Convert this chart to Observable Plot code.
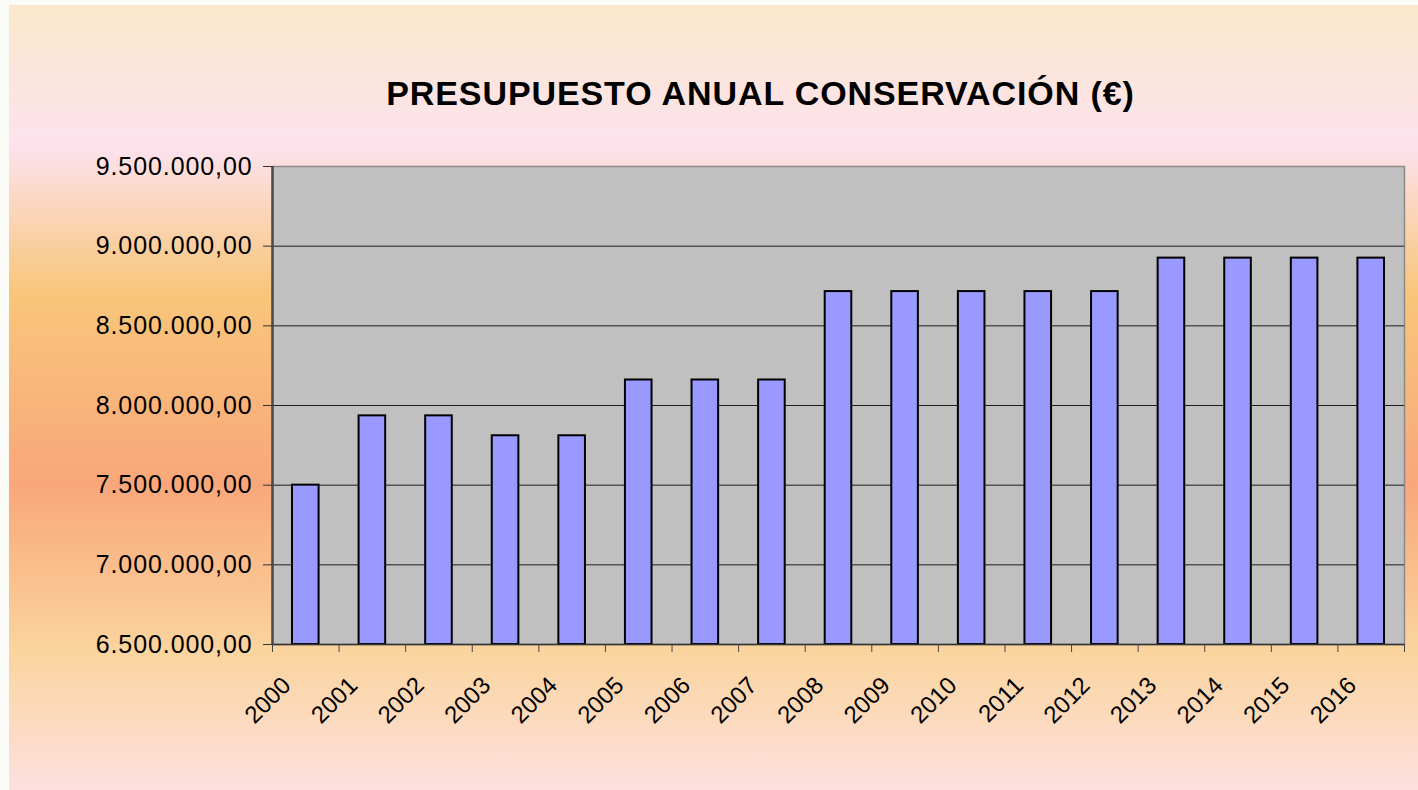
<!DOCTYPE html>
<html>
<head>
<meta charset="utf-8">
<script src="https://cdn.jsdelivr.net/npm/d3@7"></script>
<script src="https://cdn.jsdelivr.net/npm/@observablehq/plot@0.6"></script>
<style>
  html, body { margin: 0; padding: 0; background: #fbfbf8; width: 1418px; height: 790px; overflow: hidden; }
  #bg {
    position: absolute; left: 9px; top: 5px; width: 1409px; height: 785px;
    background: linear-gradient(to bottom,
      #fbe8cc 0%, #fde2ee 18%, #f8c67a 36.6%, #f9a77a 61%, #fad59f 82.8%, #fde0e0 100%);
  }
  #chart { position: absolute; left: 0; top: 0; }
</style>
</head>
<body>
<div id="bg"></div>
<div id="chart"></div>
<script>
const title = "PRESUPUESTO ANUAL CONSERVACIÓN (€)";
const years = ["2000","2001","2002","2003","2004","2005","2006","2007","2008","2009","2010","2011","2012","2013","2014","2015","2016"];
const values = [7500000, 7935000, 7935000, 7810000, 7810000, 8160000, 8160000, 8160000, 8715000, 8715000, 8715000, 8715000, 8715000, 8925000, 8925000, 8925000, 8925000];
const yTicks = [6500000, 7000000, 7500000, 8000000, 8500000, 9000000, 9500000];

const data = years.map((y, i) => ({year: y, i, value: values[i]}));
const yMin = yTicks[0], yMax = yTicks[yTicks.length - 1];
const fmt = v => d3.format(",.2f")(v).replace(/,/g, "#").replace(/\./g, ",").replace(/#/g, ".");
const boundaries = d3.range(years.length + 1);

const chart = Plot.plot({
  width: 1418,
  height: 790,
  marginLeft: 272,
  marginRight: 14,
  marginTop: 166,
  marginBottom: 146,
  style: {background: "transparent", fontFamily: "'Liberation Sans', Arial, sans-serif", overflow: "visible"},
  x: {domain: [0, years.length], axis: null},
  y: {domain: [yMin, yMax], axis: null},
  marks: [
    Plot.frame({fill: "#c0c0c0", stroke: "#8a8a8a", strokeWidth: 1.5}),
    Plot.gridY(yTicks.slice(1, -1), {stroke: "#000", strokeOpacity: 0.85, strokeWidth: 1}),
    Plot.rect(data, {x1: "i", x2: d => d.i + 1, y1: yMin, y2: "value", insetLeft: 20, insetRight: 20,
      fill: "#9999ff", stroke: "#000", strokeWidth: 2}),
    Plot.ruleX([0], {stroke: "#4a4a4a", strokeWidth: 2.5}),
    Plot.ruleY([yMin], {stroke: "#333", strokeWidth: 1.5}),
    Plot.axisY(yTicks, {tickSize: 9, tickPadding: 11, tickFormat: fmt, fontSize: 25, stroke: "#333",
      fill: "#000", label: null}),
    Plot.axisX(boundaries, {tickSize: 8, tickFormat: () => "", stroke: "#444", label: null}),
    Plot.text(data, {x: d => d.i + 0.5, frameAnchor: "bottom", text: "year", rotate: -45,
      textAnchor: "end", lineAnchor: "middle", dx: -19, dy: 37, fontSize: 24, fill: "#000"}),
    Plot.text([title], {frameAnchor: "top", x: years.length / 2, lineAnchor: "bottom", dy: -62, dx: -78,
      fontSize: 34, fontWeight: "bold", fill: "#000", textAnchor: "middle"})
  ]
});
document.getElementById("chart").appendChild(chart);
// letter-spacing tweaks to match the stretched look of the original
chart.querySelectorAll("[aria-label='y-axis tick label'] text").forEach(t => t.style.letterSpacing = "0.9px");
chart.querySelectorAll("text").forEach(t => { if (t.textContent === title) t.style.letterSpacing = "0.9px"; });
</script>
</body>
</html>
